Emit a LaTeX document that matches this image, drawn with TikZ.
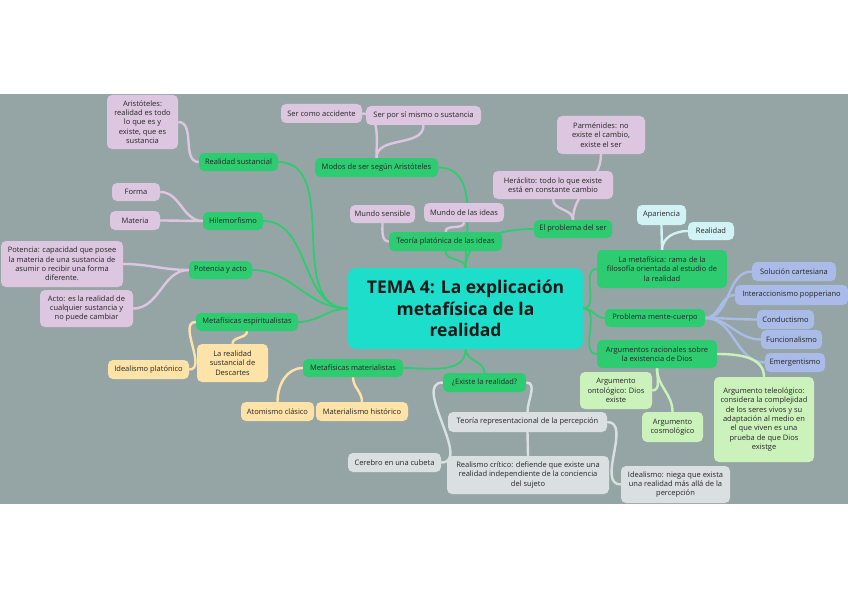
\documentclass[tikz,border=0pt]{standalone}
\usepackage{fontspec}
\setmainfont{Open Sans}
\pgfdeclarelayer{back}
\pgfdeclarelayer{edges}
\pgfsetlayers{back,edges,main}
\definecolor{bgc}{HTML}{95A5A6}
\definecolor{mgreen}{HTML}{2ECC71}
\definecolor{turq}{HTML}{1DDECB}
\definecolor{lilac}{HTML}{DCC6E0}
\definecolor{lcyan}{HTML}{D2F3F5}
\definecolor{peri}{HTML}{A9BBE6}
\definecolor{lgreen}{HTML}{CCF2BC}
\definecolor{yell}{HTML}{FDE3A7}
\definecolor{lgrey}{HTML}{DADFE1}
\tikzset{
  box/.style={rounded corners=5pt, inner sep=1pt, align=center, font=\fontsize{7.5}{9.3}\selectfont, text=black!85},
  gn/.style={box, fill=mgreen},
  li/.style={box, fill=lilac},
  cy/.style={box, fill=lcyan},
  pe/.style={box, fill=peri},
  lg/.style={box, fill=lgreen},
  ye/.style={box, fill=yell},
  gr/.style={box, fill=lgrey},
  gline/.style={draw=mgreen, line width=1.8pt},
  cline/.style={line width=2.4pt},
}
\newcommand\mmnode[6]{\node[#1, minimum width=#4pt, minimum height=#5pt] (#2) at (#3) {#6};}
\begin{document}
\begin{tikzpicture}[x=1pt,y=-1pt]
\useasboundingbox (0,0) rectangle (848,599);
\begin{pgfonlayer}{back}
\fill[white] (0,0) rectangle (848,599);
\fill[bgc] (0,94) rectangle (848,504);
\end{pgfonlayer}
% center
\node[rounded corners=8pt, fill=turq, minimum width=235pt, minimum height=81pt, align=center,
  font=\fontsize{17.5}{21.5}\selectfont\bfseries, text=black!90] (c) at (465.5,308.5)
  {TEMA 4: La explicación\\metafísica de la\\realidad};
% green nodes
\mmnode{gn}{rs}{238.5,162}{79}{18}{Realidad sustancial}
\mmnode{gn}{hil}{233,221}{60}{18}{Hilemorfismo}
\mmnode{gn}{pya}{220.5,270}{63}{18}{Potencia y acto}
\mmnode{gn}{esp}{247,322}{102}{18}{Metafísicas espiritualistas}
\mmnode{gn}{mat}{353,368}{100}{18}{Metafísicas materialistas}
\mmnode{gn}{modos}{376.5,167.5}{123}{19}{Modos de ser según Aristóteles}
\mmnode{gn}{tp}{445.5,241.5}{113}{19}{Teoría platónica de las ideas}
\mmnode{gn}{eps}{573,229}{78}{18}{El problema del ser}
\mmnode{gn}{lm}{662,269}{130}{38}{La metafísica: rama de la\\filosofía orientada al estudio de\\la realidad}
\mmnode{gn}{pmc}{655,318}{100}{18}{Problema mente-cuerpo}
\mmnode{gn}{arg}{657,354}{120}{28}{Argumentos racionales sobre\\la existencia de Dios}
\mmnode{gn}{exi}{484.5,382.5}{83}{19}{¿Existe la realidad?}
% lilac
\mmnode{li}{ari}{142.5,122}{71}{54}{Aristóteles:\\realidad es todo\\lo que es y\\existe, que es\\sustancia}
\mmnode{li}{forma}{136,192}{48}{18}{Forma}
\mmnode{li}{materia}{135,220.5}{50}{19}{Materia}
\mmnode{li}{pot}{62,264}{122}{46}{Potencia: capacidad que posee\\la materia de una sustancia de\\asumir o recibir una forma\\diferente.}
\mmnode{li}{acto}{86.5,308.5}{93}{37}{Acto: es la realidad de\\cualquier sustancia y\\no puede cambiar}
\mmnode{li}{sca}{321.5,113.5}{81}{19}{Ser como accidente}
\mmnode{li}{sps}{423.5,115.5}{115}{19}{Ser por sí mismo o sustancia}
\mmnode{li}{ms}{382.5,214}{65}{18}{Mundo sensible}
\mmnode{li}{mi}{464,212.5}{80}{19}{Mundo de las ideas}
\mmnode{li}{her}{553,185}{120}{28}{Heráclito: todo lo que existe\\está en constante cambio}
\mmnode{li}{par}{601,135}{88}{38}{Parménides: no\\existe el cambio,\\existe el ser}
% cyan
\mmnode{cy}{apa}{661.5,215}{49}{20}{Apariencia}
\mmnode{cy}{real}{711,231}{46}{18}{Realidad}
% periwinkle
\mmnode{pe}{sc}{794,271.5}{84}{19}{Solución cartesiana}
\mmnode{pe}{ip}{791.5,295}{113}{20}{Interaccionismo popperiano}
\mmnode{pe}{cond}{785.5,319.5}{57}{19}{Conductismo}
\mmnode{pe}{func}{791.5,339.5}{61}{19}{Funcionalismo}
\mmnode{pe}{emer}{795,362.5}{60}{19}{Emergentismo}
% light green
\mmnode{lg}{onto}{616,390.5}{72}{37}{Argumento\\ontológico: Dios\\existe}
\mmnode{lg}{cosmo}{672.5,427}{61}{30}{Argumento\\cosmológico}
\mmnode{lg}{tel}{764,419.5}{100}{85}{Argumento teleológico:\\considera la complejidad\\de los seres vivos y su\\adaptación al medio en\\el que viven es una\\prueba de que Dios\\existge}
% yellow
\mmnode{ye}{idp}{148.5,369.5}{81}{19}{Idealismo platónico}
\mmnode{ye}{desc}{232.5,363}{71}{38}{La realidad\\sustancial de\\Descartes}
\mmnode{ye}{atom}{277.5,411.5}{73}{19}{Atomismo clásico}
\mmnode{ye}{mh}{362,411.5}{92}{19}{Materialismo histórico}
% grey
\mmnode{gr}{trp}{527.5,422}{159}{20}{Teoría representacional de la percepción}
\mmnode{gr}{cer}{394.5,462.5}{93}{19}{Cerebro en una cubeta}
\mmnode{gr}{rc}{528,475}{162}{38}{Realismo crítico: defiende que existe una\\realidad independiente de la conciencia\\del sujeto}
\mmnode{gr}{ide}{675.5,484.5}{109}{37}{Idealismo: niega que exista\\una realidad más allá de la\\percepción}
% connectors
\begin{pgfonlayer}{edges}
\draw[gline] (rs.east) to[out=0,in=180] (c.west);
\draw[gline] (hil.east) to[out=0,in=180] (c.west);
\draw[gline] (pya.east) to[out=0,in=180] (c.west);
\draw[gline] (esp.east) to[out=0,in=180] (c.west);
\draw[gline] (mat.east) to[out=0,in=-90] (c.south);
\draw[gline] (c.south) to[out=-90,in=90] (exi.north);
\draw[gline] (modos.east) to[out=0,in=90] (c.north);
\draw[gline] (tp.south) to[out=-90,in=90] (c.north);
\draw[gline] (eps.west) to[out=180,in=90] (c.north);
\draw[gline] (c.east) to[out=0,in=180] (lm.west);
\draw[gline] (c.east) to[out=0,in=180] (pmc.west);
\draw[gline] (c.east) to[out=0,in=180] (arg.west);
% lilac
\draw[cline, lilac] (ari.east) to[out=0,in=180] (rs.west);
\draw[cline, lilac] (forma.east) to[out=0,in=180] (hil.west);
\draw[cline, lilac] (materia.east) to[out=0,in=180] (hil.west);
\draw[cline, lilac] (pot.east) to[out=0,in=180] (pya.west);
\draw[cline, lilac] (acto.east) to[out=0,in=180] (pya.west);
\draw[cline, lilac] (modos.north) to[out=90,in=0] (sca.east);
\draw[cline, lilac] (modos.north) to[out=90,in=-90] (sps.south);
\draw[cline, lilac] (ms.south) to[out=-90,in=180] (tp.west);
\draw[cline, lilac] (mi.south) to[out=-90,in=90] (tp.north);
\draw[cline, lilac] (eps.north) to[out=90,in=-90] (her.south);
\draw[cline, lilac] (eps.north) to[out=90,in=-90] (par.south);
% cyan
\draw[cline, lcyan] (lm.north) to[out=90,in=-90] (apa.south);
\draw[cline, lcyan] (lm.north) to[out=90,in=180] (real.west);
% periwinkle
\foreach \n in {sc,ip,cond,func,emer}
  \draw[cline, peri] (pmc.east) to[out=0,in=180] (\n.west);
% light green
\draw[cline, lgreen] (arg.south) to[out=-90,in=0] (onto.east);
\draw[cline, lgreen] (arg.south) to[out=-90,in=90] (cosmo.north);
\draw[cline, lgreen] (arg.east) to[out=0,in=90] (tel.north);
% yellow
\draw[cline, yell] (idp.east) to[out=0,in=180] (esp.west);
\draw[cline, yell] (desc.north) to[out=90,in=-90] (esp.south);
\draw[cline, yell] (atom.north) to[out=90,in=180] (mat.west);
\draw[cline, yell] (mh.north) to[out=90,in=-90] (mat.south);
% grey
\draw[cline, lgrey] (cer.east) to[out=0,in=180] (exi.west);
\draw[cline, lgrey] (exi.east) to[out=0,in=90] (trp.north);
\draw[cline, lgrey] (trp.south) -- (rc.north);
\draw[cline, lgrey] (trp.east) to[out=0,in=180] (ide.west);
\end{pgfonlayer}
\end{tikzpicture}
\end{document}
